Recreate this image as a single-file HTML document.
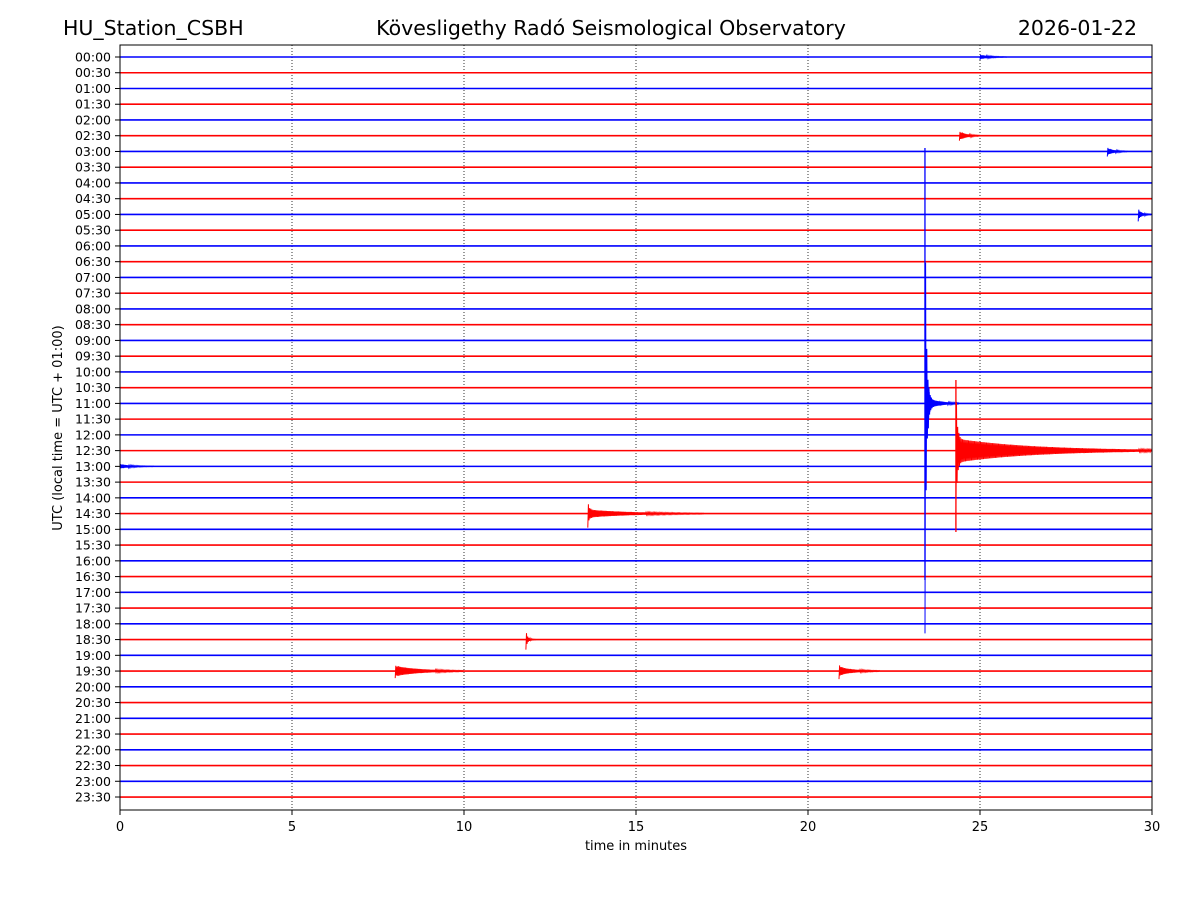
<!DOCTYPE html>
<html><head><meta charset="utf-8"><style>
body{margin:0;background:#fff;}
svg text{font-family:"DejaVu Sans","Liberation Sans",sans-serif;}
</style></head><body>
<svg id="chart" width="1200" height="900" xmlns="http://www.w3.org/2000/svg">
<rect width="1200" height="900" fill="#fff"/>
<text x="63" y="35" font-size="20.5">HU_Station_CSBH</text>
<text x="611" y="35" font-size="20.5" text-anchor="middle">Kövesligethy Radó Seismological Observatory</text>
<text x="1137" y="35" font-size="20.5" text-anchor="end">2026-01-22</text>
<g id="grid"></g>
<g id="traces"></g>
<g id="events"></g>
<rect x="120" y="45" width="1032" height="765" fill="none" stroke="#000" stroke-width="1"/>
<g id="yticks"></g>
<g id="xticks"></g>
<text x="636" y="850" font-size="13" text-anchor="middle">time in minutes</text>
<text transform="translate(62,428) rotate(-90)" font-size="13" text-anchor="middle">UTC (local time = UTC + 01:00)</text>
</svg>
<script>
const xTicks=[0,5,10,15,20,25,30];
const rowCount=48;
// events: row index, start minute, spike amplitude(px), coda amplitude(px), coda duration (min)
const eventRow=[0,5,6,10,22,25,29,37,39,39,26,22];
const eventStart=[25.0,24.4,28.7,29.6,23.4,24.3,13.6,11.8,8.0,20.9,0.0,23.5];
const eventSpike=[3,5,5,7,230,75,14,10,7,8,3,25];
const eventCoda=[2,4,3,3,6,12,4,2,5,4,2,6];
const eventDur=[0.8,0.6,0.6,0.4,1.0,5.7,3.4,0.3,2.0,1.2,1.0,0.5];

const NS="http://www.w3.org/2000/svg";
const x0=120,x1=1152,yTop=57,yStep=15.745;
const xs=m=>x0+(x1-x0)*m/30;
const ys=r=>yTop+r*yStep;
const colorOf=r=>r%2===0?"#0000ff":"#ff0000";
function mk(tag,attrs,parent){const e=document.createElementNS(NS,tag);for(const k in attrs)e.setAttribute(k,attrs[k]);parent.appendChild(e);return e;}
const grid=document.getElementById('grid'),traces=document.getElementById('traces'),ev=document.getElementById('events');
const yt=document.getElementById('yticks'),xt=document.getElementById('xticks');
xTicks.forEach(t=>{
  if(t>0&&t<30){const l=mk('line',{x1:xs(t),x2:xs(t),y1:45,y2:810,stroke:'#000','stroke-width':0.8,'stroke-dasharray':'1,2'},grid);
  
  }
  const tk=mk('line',{x1:xs(t),x2:xs(t),y1:810,y2:815,stroke:'#000'},xt);
  
  
  const tx=mk('text',{x:xs(t),y:831,'font-size':13,'text-anchor':'middle'},xt);tx.textContent=t;
  
  
});
for(let r=0;r<rowCount;r++){
  const y=ys(r);
  const ln=mk('line',{x1:x0,x2:x1,y1:y,y2:y,stroke:colorOf(r),'stroke-width':1.6},traces);
  
  
  const tk=mk('line',{x1:115,x2:120,y1:y,y2:y,stroke:'#000'},yt);
  
  
  const h=Math.floor(r/2),mm=r%2?'30':'00';
  const tx=mk('text',{x:111,y:y+4.5,'font-size':12.5,'text-anchor':'end'},yt);
  tx.textContent=String(h).padStart(2,'0')+':'+mm;
  
  
}
for(let i=0;i<eventRow.length;i++){
  const r=eventRow[i],y=ys(r),xa=xs(eventStart[i]),len=xs(eventStart[i]+eventDur[i])-xa;
  let pts=[];let s=1;
  for(let p=0;p<=len;p+=0.6){
    const t=p/len;
    const a=eventSpike[i]*Math.exp(-p/1.2)+eventCoda[i]*Math.exp(-2.5*t)*(p<3?p/3:1);
    pts.push((xa+p).toFixed(1)+','+(y+s*a).toFixed(1));s=-s;
  }
  const pl=mk('polyline',{points:pts.join(' '),fill:'none',stroke:colorOf(r),'stroke-width':1},ev);
  
  
}
// big quake vertical extent
const big=mk('line',{x1:xs(23.4),x2:xs(23.4),y1:148,y2:580,stroke:'#0000ff','stroke-width':1.3},ev);


const big2=mk('line',{x1:xs(24.3),x2:xs(24.3),y1:380,y2:532,stroke:'#ff0000','stroke-width':1.3},ev);


</script>
</body></html>
